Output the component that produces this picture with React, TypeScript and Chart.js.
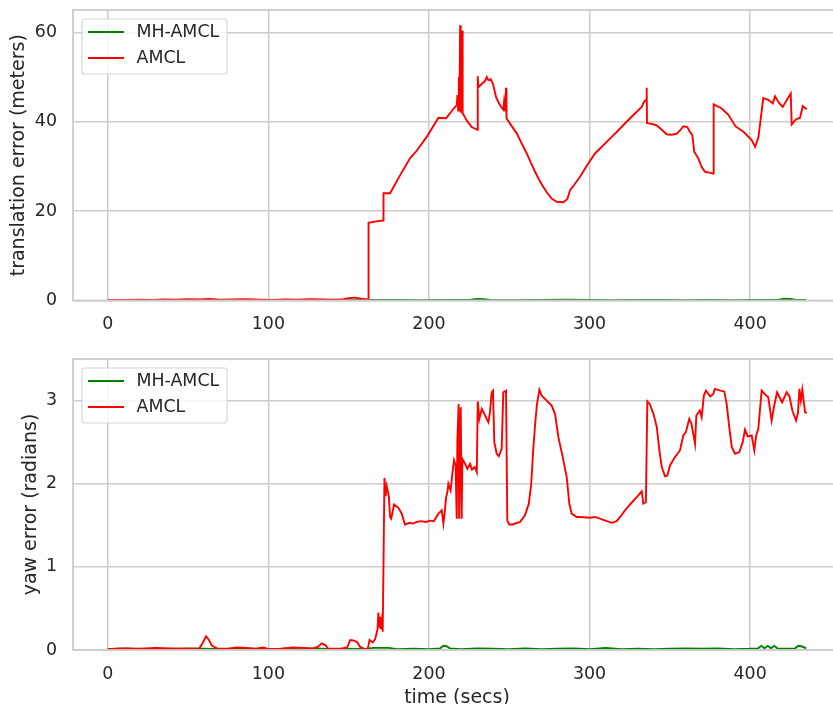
import React, { useEffect, useRef } from "react";
import { Chart, registerables } from "chart.js";

Chart.register(...registerables);

// ---------- data ----------
const seriesLabels = ["MH-AMCL", "AMCL"];
const seriesColors = ["#008000", "#ff0000"];

const xTicks = [0, 100, 200, 300, 400];
const transTicks = [0, 20, 40, 60];
const yawTicks = [0, 1, 2, 3];

const xLabel = "time (secs)";
const transLabel = "translation error (meters)";
const yawLabel = "yaw error (radians)";

// [time (secs), error] pairs
const amclTranslation: number[][] = [
  [0, 0.1], [5, 0.1], [12, 0.15], [20, 0.2], [28, 0.15], [35, 0.25], [42, 0.2], [50, 0.3], [57, 0.25], [63, 0.35],
  [70, 0.2], [78, 0.25], [86, 0.3], [95, 0.2], [103, 0.15], [110, 0.25], [118, 0.2], [126, 0.3], [134, 0.25],
  [141, 0.2], [147, 0.3], [151, 0.55], [154, 0.65], [157, 0.45], [160, 0.3], [162.2, 0.3], [162.4, 17.4],
  [167, 17.7], [171.4, 17.9], [171.7, 24.0], [175.8, 24.0], [182, 28.0], [188.2, 31.8], [192.4, 33.5],
  [198.6, 36.6], [205.9, 40.9], [210.7, 40.8], [214.2, 42.4], [217.3, 43.7], [217.8, 46], [218.2, 42.5],
  [218.6, 50], [219.0, 43], [219.4, 61.6], [219.8, 42], [220.3, 59], [220.6, 60.4], [221.0, 41.8], [221.4, 41.7],
  [223.5, 40.3], [226.6, 38.8], [230.2, 38.2], [230.4, 50.2], [230.7, 47.7], [233, 48.5], [235, 49.2], [236, 50.0],
  [237, 49.3], [238.5, 49.5], [240, 48.3], [241.8, 45.5], [243.5, 44.2], [245, 43.3], [246.3, 42.7], [246.8, 44.5],
  [247.5, 42.3], [248.0, 47.6], [248.3, 40.8], [251, 39.3], [254.7, 37.4], [257.8, 35.1], [260.9, 32.9],
  [263.5, 30.8], [266.1, 28.8], [268.6, 27.0], [271.2, 25.4], [273.8, 24.0], [276.4, 22.8], [279.6, 22.1],
  [283.7, 22.0], [286.2, 22.7], [287.9, 24.7], [290.5, 25.9], [294.1, 27.7], [298.6, 30.3], [303.4, 32.9],
  [306.5, 34.0], [309.6, 35.1], [313.2, 36.4], [316.9, 37.7], [322, 39.6], [327.3, 41.5], [332.5, 43.3],
  [334, 44.5], [335.5, 45.0], [335.6, 47.6], [335.8, 39.7], [339, 39.5], [341.8, 39.2], [345, 38.2], [348, 37.2],
  [351, 37.1], [354.3, 37.3], [356.5, 38.1], [358.4, 39.0], [360.9, 38.8], [362.6, 37.7], [364, 37.0],
  [365.2, 33.3], [367.7, 31.8], [369.8, 29.9], [371.9, 28.8], [374.5, 28.6], [377.1, 28.4], [377.3, 43.9],
  [380, 43.4], [382.5, 42.9], [386.6, 41.5], [390.8, 39.0], [396, 37.7], [401, 35.9], [403.1, 34.4], [405.2, 36.5],
  [408.2, 45.3], [411.3, 44.9], [414.1, 44.1], [415.5, 45.7], [418, 44.2], [420.3, 43.3], [425.3, 46.3],
  [425.9, 39.4], [428.5, 40.5], [431.1, 40.9], [432.8, 43.5], [434.8, 42.9], [435.3, 42.8],
];

const mhTranslation: number[][] = [
  [0, 0.05], [15, 0.08], [30, 0.06], [45, 0.1], [60, 0.07], [75, 0.05], [90, 0.08], [105, 0.06], [120, 0.09],
  [135, 0.05], [150, 0.07], [165, 0.1], [180, 0.12], [195, 0.08], [210, 0.1], [225, 0.15], [230, 0.35], [234, 0.3],
  [238, 0.1], [255, 0.08], [270, 0.12], [285, 0.2], [300, 0.1], [315, 0.08], [330, 0.1], [345, 0.12], [360, 0.09],
  [375, 0.1], [390, 0.08], [405, 0.1], [418, 0.2], [421, 0.4], [425, 0.35], [428, 0.2], [435, 0.15],
];

const amclYaw: number[][] = [
  [0, 0.01], [5, 0.015], [12, 0.02], [20, 0.015], [30, 0.025], [40, 0.02], [50, 0.015], [57, 0.02], [59, 0.08],
  [61.2, 0.165], [63, 0.12], [65, 0.05], [68, 0.02], [75, 0.015], [80, 0.03], [86, 0.025], [92, 0.015], [97, 0.03],
  [100, 0.01], [108, 0.015], [115, 0.03], [122, 0.025], [128, 0.02], [131, 0.04], [133.2, 0.08], [135.5, 0.06],
  [137, 0.02], [145, 0.015], [149, 0.03], [151, 0.12], [153, 0.115], [155.5, 0.09], [157, 0.04], [160, 0.01],
  [162, 0.02], [163, 0.12], [165, 0.09], [166.5, 0.13], [168, 0.25], [168.5, 0.45], [169, 0.28], [169.5, 0.4],
  [170, 0.25], [170.6, 0.35], [171.2, 0.22], [171.8, 1.2], [172.3, 2.07], [173.0, 1.85], [173.7, 1.97], [175, 1.85],
  [175.8, 1.6], [176.5, 1.58], [178.3, 1.75], [181, 1.71], [183, 1.64], [185.1, 1.51], [188, 1.53], [190, 1.52],
  [192.4, 1.54], [195, 1.55], [198, 1.54], [200.7, 1.556], [203, 1.55], [205.9, 1.64], [208, 1.68], [209, 1.52],
  [209.8, 1.65], [210.7, 1.84], [211.5, 1.9], [212.1, 2.0], [213.5, 1.92], [214.8, 2.16], [215.6, 2.28],
  [216.6, 2.22], [217.3, 1.58], [217.7, 2.52], [218.5, 2.96], [218.8, 1.58], [219.8, 2.92], [220.4, 1.58],
  [220.8, 2.3], [222.5, 2.24], [223.9, 2.18], [225.6, 2.24], [226.8, 2.17], [228.6, 2.2], [229.8, 2.14],
  [230.4, 2.99], [231.4, 2.78], [232.9, 2.9], [235, 2.82], [237, 2.74], [238, 2.86], [239.1, 3.1], [239.9, 3.12],
  [240.7, 2.5], [242.2, 2.36], [243.5, 2.33], [245.3, 2.42], [246.3, 3.1], [248.0, 3.12], [248.8, 1.56],
  [250, 1.51], [252, 1.51], [256.7, 1.54], [259.8, 1.62], [262.2, 1.76], [263.7, 2.0], [264.9, 2.4], [266.3, 2.76],
  [267.3, 2.96], [268.8, 3.13], [270.2, 3.06], [273.3, 3.0], [276.4, 2.94], [278.5, 2.84], [280.6, 2.56],
  [283.3, 2.32], [285.8, 2.08], [287.4, 1.76], [288.9, 1.64], [292, 1.6], [294.1, 1.6], [300.3, 1.59],
  [303.4, 1.6], [306.5, 1.58], [310.7, 1.55], [313.8, 1.53], [316.9, 1.55], [319, 1.6], [322.1, 1.68],
  [325.2, 1.75], [330.4, 1.86], [332.5, 1.91], [333.5, 1.76], [335.1, 1.78], [336, 2.99], [337.5, 2.96],
  [339.8, 2.84], [341.9, 2.68], [343.5, 2.4], [345, 2.2], [347, 2.09], [348.5, 2.1], [350.1, 2.22], [353.2, 2.32],
  [356.3, 2.4], [358.4, 2.58], [360, 2.62], [362.1, 2.78], [363.5, 2.72], [365.7, 2.48], [366.5, 2.82],
  [368.7, 2.88], [369.8, 2.8], [371.2, 3.06], [372.5, 3.12], [375.2, 3.05], [377.1, 3.08], [378, 3.14],
  [381.5, 3.12], [383.9, 3.11], [385.4, 2.96], [387, 2.68], [388.6, 2.44], [390.6, 2.36], [393.3, 2.38],
  [395.4, 2.5], [396.8, 2.65], [398.5, 2.57], [401, 2.58], [402.6, 2.4], [403.8, 2.58], [405.1, 2.66],
  [407.2, 3.12], [409, 3.08], [411.3, 3.04], [413.4, 2.76], [414.8, 2.92], [416.8, 3.1], [419.9, 2.98],
  [422.8, 3.1], [424.5, 3.05], [426.3, 2.88], [428.6, 2.76], [429.8, 2.85], [430.7, 3.14], [431.6, 3.0],
  [432.5, 3.13], [434.2, 2.86], [435.3, 2.85],
];

const mhYaw: number[][] = [
  [0, 0.01], [10, 0.02], [20, 0.01], [30, 0.015], [40, 0.01], [50, 0.02], [60, 0.015], [70, 0.01], [80, 0.02],
  [90, 0.015], [100, 0.01], [110, 0.015], [120, 0.01], [130, 0.02], [140, 0.01], [150, 0.015], [160, 0.01],
  [165, 0.025], [175, 0.025], [180, 0.01], [190, 0.015], [200, 0.01], [207, 0.02], [209, 0.05], [211, 0.045],
  [213, 0.02], [220, 0.01], [230, 0.02], [240, 0.015], [250, 0.01], [260, 0.02], [270, 0.01], [280, 0.015],
  [290, 0.02], [300, 0.01], [310, 0.025], [320, 0.01], [330, 0.015], [340, 0.01], [350, 0.015], [360, 0.02],
  [370, 0.015], [380, 0.02], [390, 0.01], [400, 0.015], [405, 0.02], [407, 0.05], [409, 0.02], [411, 0.05],
  [413, 0.02], [415, 0.05], [417, 0.02], [420, 0.015], [428, 0.02], [430, 0.05], [432, 0.045], [435, 0.02],
];

// ---------- styling ----------
const FONT = "'DejaVu Sans', 'Liberation Sans', sans-serif";
const TEXT = "#262626";
const GRID = "#cccccc";
const X_MIN = -21.65;
const X_MAX = 456.6;
const W = 841;
const LINE_W = 1.9;

const pts = (arr: number[][]) => arr.map((p) => ({ x: p[0], y: p[1] }));

const framePlugin = {
  id: "frameLegend",
  afterDatasetsDraw(chart: any) {
    const { ctx, chartArea: a } = chart;
    ctx.save();
    ctx.strokeStyle = GRID;
    ctx.lineWidth = 1.8;
    ctx.strokeRect(a.left, a.top, a.right - a.left, a.bottom - a.top);
    ctx.restore();
  },
  afterDraw(chart: any) {
    const { ctx, chartArea: a } = chart;
    const x0 = a.left + 9;
    const y0 = a.top + 9;
    const w = 145;
    const h = 55;
    const r = 3;
    ctx.save();
    ctx.beginPath();
    ctx.moveTo(x0 + r, y0);
    ctx.lineTo(x0 + w - r, y0);
    ctx.arcTo(x0 + w, y0, x0 + w, y0 + r, r);
    ctx.lineTo(x0 + w, y0 + h - r);
    ctx.arcTo(x0 + w, y0 + h, x0 + w - r, y0 + h, r);
    ctx.lineTo(x0 + r, y0 + h);
    ctx.arcTo(x0, y0 + h, x0, y0 + h - r, r);
    ctx.lineTo(x0, y0 + r);
    ctx.arcTo(x0, y0, x0 + r, y0, r);
    ctx.closePath();
    ctx.fillStyle = "rgba(255,255,255,0.8)";
    ctx.fill();
    ctx.strokeStyle = "rgba(204,204,204,0.8)";
    ctx.lineWidth = 1.2;
    ctx.stroke();
    chart.data.datasets.forEach((ds: any, i: number) => {
      const y = y0 + 13 + i * 26;
      ctx.beginPath();
      ctx.moveTo(x0 + 6, y);
      ctx.lineTo(x0 + 42, y);
      ctx.strokeStyle = ds.borderColor;
      ctx.lineWidth = LINE_W;
      ctx.stroke();
      ctx.fillStyle = TEXT;
      ctx.font = `17.4px ${FONT}`;
      ctx.textAlign = "left";
      ctx.textBaseline = "middle";
      ctx.fillText(ds.label, x0 + 54.5, y);
    });
    ctx.restore();
  },
};

function makeConfig(opts: {
  mh: { x: number; y: number }[];
  amcl: { x: number; y: number }[];
  yMax: number;
  yTicks: number[];
  yTitle: string;
  yTitlePad: number;
  xTitle: string | null;
  padTop: number;
  xAxisHeight: number;
}) {
  const tickFont = { family: FONT, size: 17.4 };
  const titleFont = { family: FONT, size: 19 };
  return {
    type: "line" as const,
    data: {
      datasets: [
        {
          label: seriesLabels[0],
          data: opts.mh,
          borderColor: seriesColors[0],
          backgroundColor: seriesColors[0],
          borderWidth: LINE_W,
          pointRadius: 0,
          tension: 0,
          order: 1,
        },
        {
          label: seriesLabels[1],
          data: opts.amcl,
          borderColor: seriesColors[1],
          backgroundColor: seriesColors[1],
          borderWidth: LINE_W,
          pointRadius: 0,
          tension: 0,
          order: 0,
        },
      ],
    },
    options: {
      responsive: false,
      animation: false as const,
      events: [],
      layout: { padding: { top: opts.padTop, left: 0, right: 0, bottom: 0 } },
      plugins: {
        legend: { display: false },
        tooltip: { enabled: false },
        title: { display: false },
      },
      scales: {
        x: {
          type: "linear" as const,
          min: X_MIN,
          max: X_MAX,
          afterBuildTicks: (s: any) => {
            s.ticks = xTicks.map((v) => ({ value: v }));
          },
          afterFit: (s: any) => {
            s.height = opts.xAxisHeight;
            s.paddingLeft = 0;
            s.paddingRight = 0;
          },
          ticks: {
            includeBounds: false,
            font: tickFont,
            color: TEXT,
            padding: 14,
            maxRotation: 0,
            callback: (v: any) => String(v),
          },
          grid: { color: GRID, lineWidth: 1.5, drawTicks: false },
          border: { display: false },
          title: opts.xTitle
            ? {
                display: true,
                text: opts.xTitle,
                font: titleFont,
                color: TEXT,
                padding: { top: 0, bottom: 1.6 },
              }
            : { display: false },
        },
        y: {
          type: "linear" as const,
          min: 0,
          max: opts.yMax,
          afterBuildTicks: (s: any) => {
            s.ticks = opts.yTicks.map((v) => ({ value: v }));
          },
          afterFit: (s: any) => {
            s.width = 73;
            s.paddingTop = 0;
            s.paddingBottom = 0;
          },
          ticks: {
            includeBounds: false,
            font: tickFont,
            color: TEXT,
            padding: 16,
            callback: (v: any) => String(v),
          },
          grid: { color: GRID, lineWidth: 1.5, drawTicks: false },
          border: { display: false },
          title: {
            display: true,
            text: opts.yTitle,
            font: titleFont,
            color: TEXT,
            padding: { top: opts.yTitlePad, bottom: 0 },
          },
        },
      },
    },
    plugins: [framePlugin],
  };
}

export default function App() {
  const topRef = useRef<HTMLCanvasElement | null>(null);
  const botRef = useRef<HTMLCanvasElement | null>(null);

  useEffect(() => {
    const c1 = new Chart(
      topRef.current as HTMLCanvasElement,
      makeConfig({
        mh: pts(mhTranslation),
        amcl: pts(amclTranslation),
        yMax: 65,
        yTicks: transTicks,
        yTitle: transLabel,
        yTitlePad: 7.6,
        xTitle: null,
        padTop: 10,
        xAxisHeight: 39.5,
      }) as any
    );
    const c2 = new Chart(
      botRef.current as HTMLCanvasElement,
      makeConfig({
        mh: pts(mhYaw),
        amcl: pts(amclYaw),
        yMax: 3.5,
        yTicks: yawTicks,
        yTitle: yawLabel,
        yTitlePad: 19.6,
        xTitle: xLabel,
        padTop: 19,
        xAxisHeight: 61,
      }) as any
    );
    return () => {
      c1.destroy();
      c2.destroy();
    };
  }, []);

  return (
    <div
      style={{
        position: "fixed",
        left: 0,
        top: 0,
        width: 833,
        height: 704,
        overflow: "hidden",
        background: "#ffffff",
      }}
    >
      <canvas
        ref={topRef}
        width={W}
        height={340}
        style={{ position: "absolute", left: 0, top: 0, width: W, height: 340 }}
      />
      <canvas
        ref={botRef}
        width={W}
        height={371}
        style={{ position: "absolute", left: 0, top: 340, width: W, height: 371 }}
      />
    </div>
  );
}
